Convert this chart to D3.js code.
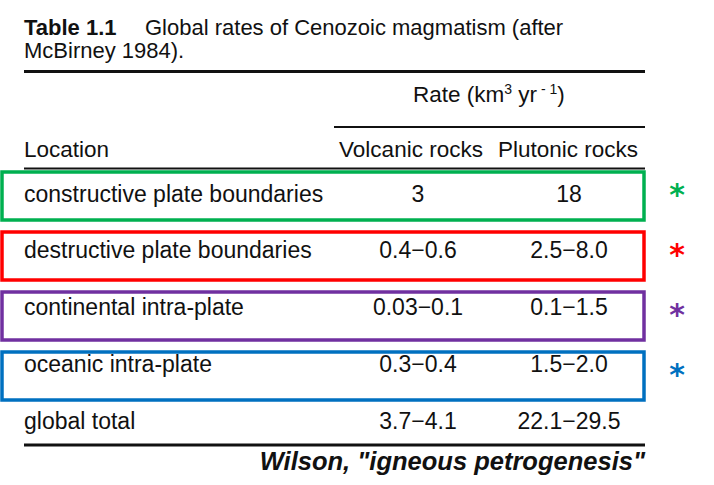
<!DOCTYPE html>
<html><head><meta charset="utf-8">
<script src="https://cdn.jsdelivr.net/npm/d3@7"></script>
<style>
html,body{margin:0;padding:0;background:#fff;}
svg{display:block;}
text{font-family:"Liberation Sans",Arial,Helvetica,sans-serif;fill:#111;}
</style></head>
<body>
<script>
// ---- data ----
const titleBold = "Table 1.1";
const titleLines = ["Global rates of Cenozoic magmatism (after", "McBirney 1984)."];
const columns = ["Location", "Volcanic rocks", "Plutonic rocks"];
const locations = ["constructive plate boundaries", "destructive plate boundaries", "continental intra-plate", "oceanic intra-plate", "global total"];
const volcanic = ["3", "0.4\u22120.6", "0.03\u22120.1", "0.3\u22120.4", "3.7\u22124.1"];
const plutonic = ["18", "2.5\u22128.0", "0.1\u22121.5", "1.5\u22122.0", "22.1\u221229.5"];
const highlighted = ["constructive plate boundaries", "destructive plate boundaries", "continental intra-plate", "oceanic intra-plate"];
const highlightColors = ["#00B050", "#FF0000", "#7030A0", "#0070C0"];
const source = "Wilson, \"igneous petrogenesis\"";

// ---- layout ----
const W = 714, H = 485;
const svg = d3.select("body").append("svg").attr("width", W).attr("height", H);

const left = 24, right = 645;
const colX = d3.scaleOrdinal().domain(columns).range([24, 412, 569]);
const rowY = d3.scalePoint().domain(locations).range([201.5, 428.5]);
const boxY = d3.scaleLinear().domain([0, highlighted.length - 1]).range([172, 352]);
const boxH = 48;
const bodySize = "23px", headSize = "22.5px";

// title
const t1 = svg.append("text").attr("x", 24).attr("y", 35).style("font-size", "22px");
t1.append("tspan").style("font-weight", "bold").text(titleBold);
t1.append("tspan").attr("x", 145).text(titleLines[0]);
svg.append("text").attr("x", 24).attr("y", 58).style("font-size", "22px").text(titleLines[1]);

// rules
const rule = (x1, x2, y, w) => svg.append("line").attr("x1", x1).attr("x2", x2)
  .attr("y1", y).attr("y2", y).attr("stroke", "#111").attr("stroke-width", w);
rule(left, right, 71.5, 3);
rule(334, right, 127, 2);
rule(left, right, 168.5, 2);
rule(left, right, 445, 3);

// Rate header
const rate = svg.append("text").attr("x", 413).attr("y", 101.5).style("font-size", headSize);
rate.append("tspan").text("Rate (km");
rate.append("tspan").attr("dy", -8).style("font-size", "14px").text("3");
rate.append("tspan").attr("dy", 8).text(" yr");
rate.append("tspan").attr("dy", -8).style("font-size", "14px").text(" - 1");
rate.append("tspan").attr("dy", 8).text(")");

// column headers
svg.selectAll("text.col").data(columns).join("text").attr("class", "col")
  .attr("x", (d, i) => i === 0 ? colX(d) : colX(d) - 1).attr("y", 157)
  .attr("text-anchor", (d, i) => i === 0 ? "start" : "middle")
  .style("font-size", headSize).text(d => d);

// rows
const rows = locations.map((loc, i) => ({loc, v: volcanic[i], p: plutonic[i]}));
const g = svg.selectAll("g.row").data(rows).join("g").attr("class", "row")
  .attr("transform", d => `translate(0,${rowY(d.loc)})`);
g.append("text").attr("x", colX(columns[0])).style("font-size", bodySize).text(d => d.loc);
g.append("text").attr("x", colX(columns[1]) + 6).attr("text-anchor", "middle").style("font-size", bodySize).text(d => d.v);
g.append("text").attr("x", colX(columns[2])).attr("text-anchor", "middle").style("font-size", bodySize).text(d => d.p);

// highlight boxes
svg.selectAll("rect.hl").data(highlighted).join("rect").attr("class", "hl")
  .attr("x", 2).attr("y", (d, i) => boxY(i)).attr("width", 642).attr("height", boxH)
  .attr("fill", "none").attr("stroke", (d, i) => highlightColors[i]).attr("stroke-width", 3.5);

// asterisks
svg.selectAll("text.star").data(highlighted).join("text").attr("class", "star")
  .attr("x", 677).attr("y", (d, i) => boxY(i) + 33)
  .attr("text-anchor", "middle")
  .style("font-family", "'DejaVu Sans',sans-serif").style("font-weight", "bold")
  .style("font-size", "30px").style("fill", (d, i) => highlightColors[i]).text("*");

// source
svg.append("text").attr("x", right).attr("y", 470).attr("text-anchor", "end")
  .style("font-size", "25.5px").style("font-weight", "bold").style("font-style", "italic")
  .text(source);
</script>
</body></html>
